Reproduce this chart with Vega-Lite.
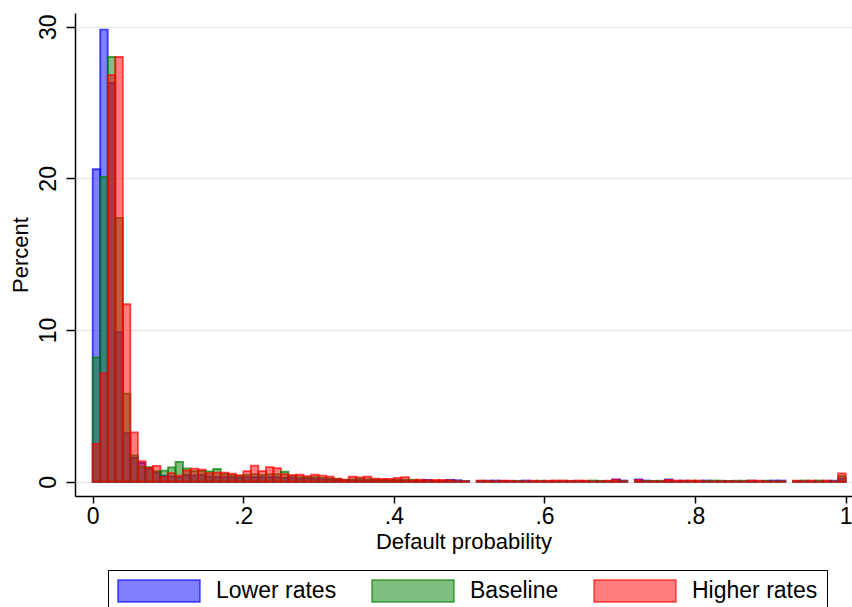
{
  "$schema": "https://vega.github.io/schema/vega-lite/v6.json",
  "width": 777,
  "height": 483,
  "autosize": {"type": "none"},
  "padding": {"left": 75, "top": 13, "right": 0, "bottom": 111},
  "background": "white",
  "config": {"view": {"stroke": null}, "font": "Liberation Sans"},
  "data": {
    "values": [
      {"a": 0.00, "b": 0.01, "Lower rates": 20.6, "Baseline": 8.2, "Higher rates": 2.5},
      {"a": 0.01, "b": 0.02, "Lower rates": 29.8, "Baseline": 20.1, "Higher rates": 7.15},
      {"a": 0.02, "b": 0.03, "Lower rates": 26.3, "Baseline": 28.0, "Higher rates": 26.8},
      {"a": 0.03, "b": 0.04, "Lower rates": 9.85, "Baseline": 17.4, "Higher rates": 28.0},
      {"a": 0.04, "b": 0.05, "Lower rates": 3.2, "Baseline": 5.8, "Higher rates": 11.7},
      {"a": 0.05, "b": 0.06, "Lower rates": 1.57, "Baseline": 1.73, "Higher rates": 3.25},
      {"a": 0.06, "b": 0.07, "Lower rates": 1.25, "Baseline": 1.0, "Higher rates": 1.35},
      {"a": 0.07, "b": 0.08, "Lower rates": 0.9, "Baseline": 0.97, "Higher rates": 0.93},
      {"a": 0.08, "b": 0.09, "Lower rates": 0.6, "Baseline": 0.7, "Higher rates": 1.05},
      {"a": 0.09, "b": 0.10, "Lower rates": 0.4, "Baseline": 0.73, "Higher rates": 0.32},
      {"a": 0.10, "b": 0.11, "Lower rates": 0.35, "Baseline": 0.95, "Higher rates": 0.57},
      {"a": 0.11, "b": 0.12, "Lower rates": 0.3, "Baseline": 1.3, "Higher rates": 0.4},
      {"a": 0.12, "b": 0.13, "Lower rates": 0.45, "Baseline": 0.88, "Higher rates": 0.75},
      {"a": 0.13, "b": 0.14, "Lower rates": 0.4, "Baseline": 0.7, "Higher rates": 0.86},
      {"a": 0.14, "b": 0.15, "Lower rates": 0.45, "Baseline": 0.72, "Higher rates": 0.8},
      {"a": 0.15, "b": 0.16, "Lower rates": 0.35, "Baseline": 0.68, "Higher rates": 0.57},
      {"a": 0.16, "b": 0.17, "Lower rates": 0.3, "Baseline": 0.84, "Higher rates": 0.6},
      {"a": 0.17, "b": 0.18, "Lower rates": 0.3, "Baseline": 0.5, "Higher rates": 0.6},
      {"a": 0.18, "b": 0.19, "Lower rates": 0.3, "Baseline": 0.45, "Higher rates": 0.53},
      {"a": 0.19, "b": 0.20, "Lower rates": 0.25, "Baseline": 0.38, "Higher rates": 0.44},
      {"a": 0.20, "b": 0.21, "Lower rates": 0.3, "Baseline": 0.45, "Higher rates": 0.7},
      {"a": 0.21, "b": 0.22, "Lower rates": 0.3, "Baseline": 0.5, "Higher rates": 1.06},
      {"a": 0.22, "b": 0.23, "Lower rates": 0.3, "Baseline": 0.45, "Higher rates": 0.7},
      {"a": 0.23, "b": 0.24, "Lower rates": 0.3, "Baseline": 0.5, "Higher rates": 0.97},
      {"a": 0.24, "b": 0.25, "Lower rates": 0.3, "Baseline": 0.5, "Higher rates": 0.9},
      {"a": 0.25, "b": 0.26, "Lower rates": 0.25, "Baseline": 0.66, "Higher rates": 0.5},
      {"a": 0.26, "b": 0.27, "Lower rates": 0.25, "Baseline": 0.4, "Higher rates": 0.44},
      {"a": 0.27, "b": 0.28, "Lower rates": 0.2, "Baseline": 0.3, "Higher rates": 0.46},
      {"a": 0.28, "b": 0.29, "Lower rates": 0.2, "Baseline": 0.3, "Higher rates": 0.37},
      {"a": 0.29, "b": 0.30, "Lower rates": 0.2, "Baseline": 0.3, "Higher rates": 0.46},
      {"a": 0.30, "b": 0.31, "Lower rates": 0.15, "Baseline": 0.25, "Higher rates": 0.4},
      {"a": 0.31, "b": 0.32, "Lower rates": 0.15, "Baseline": 0.22, "Higher rates": 0.33},
      {"a": 0.32, "b": 0.33, "Lower rates": 0.12, "Baseline": 0.18, "Higher rates": 0.2},
      {"a": 0.33, "b": 0.34, "Lower rates": 0.1, "Baseline": 0.12, "Higher rates": 0.13},
      {"a": 0.34, "b": 0.35, "Lower rates": 0.1, "Baseline": 0.15, "Higher rates": 0.33},
      {"a": 0.35, "b": 0.36, "Lower rates": 0.1, "Baseline": 0.2, "Higher rates": 0.29},
      {"a": 0.36, "b": 0.37, "Lower rates": 0.12, "Baseline": 0.15, "Higher rates": 0.33},
      {"a": 0.37, "b": 0.38, "Lower rates": 0.1, "Baseline": 0.15, "Higher rates": 0.2},
      {"a": 0.38, "b": 0.39, "Lower rates": 0.1, "Baseline": 0.14, "Higher rates": 0.18},
      {"a": 0.39, "b": 0.40, "Lower rates": 0.1, "Baseline": 0.12, "Higher rates": 0.18},
      {"a": 0.40, "b": 0.41, "Lower rates": 0.1, "Baseline": 0.12, "Higher rates": 0.26},
      {"a": 0.41, "b": 0.42, "Lower rates": 0.08, "Baseline": 0.12, "Higher rates": 0.31},
      {"a": 0.42, "b": 0.43, "Lower rates": 0.06, "Baseline": 0.13, "Higher rates": 0.1},
      {"a": 0.43, "b": 0.44, "Lower rates": 0.06, "Baseline": 0.08, "Higher rates": 0.13},
      {"a": 0.44, "b": 0.45, "Lower rates": 0.12, "Baseline": 0.05, "Higher rates": 0.1},
      {"a": 0.45, "b": 0.46, "Lower rates": 0.05, "Baseline": 0.06, "Higher rates": 0.12},
      {"a": 0.46, "b": 0.47, "Lower rates": 0.06, "Baseline": 0.05, "Higher rates": 0.12},
      {"a": 0.47, "b": 0.48, "Lower rates": 0.12, "Baseline": 0.04, "Higher rates": 0.1},
      {"a": 0.48, "b": 0.49, "Lower rates": 0.1, "Baseline": 0.03, "Higher rates": 0.04},
      {"a": 0.49, "b": 0.50, "Lower rates": 0.05, "Baseline": 0.02, "Higher rates": 0.03},
      {"a": 0.51, "b": 0.52, "Lower rates": 0.03, "Baseline": 0.05, "Higher rates": 0.08},
      {"a": 0.52, "b": 0.53, "Lower rates": 0.07, "Baseline": 0.03, "Higher rates": 0.06},
      {"a": 0.53, "b": 0.54, "Lower rates": 0.08, "Baseline": 0.02, "Higher rates": 0.03},
      {"a": 0.54, "b": 0.55, "Lower rates": 0.06, "Baseline": 0.02, "Higher rates": 0.07},
      {"a": 0.55, "b": 0.56, "Lower rates": 0.05, "Baseline": 0.03, "Higher rates": 0.07},
      {"a": 0.56, "b": 0.57, "Lower rates": 0.04, "Baseline": 0.06, "Higher rates": 0.03},
      {"a": 0.57, "b": 0.58, "Lower rates": 0.08, "Baseline": 0.02, "Higher rates": 0.03},
      {"a": 0.58, "b": 0.59, "Lower rates": 0.03, "Baseline": 0.02, "Higher rates": 0.07},
      {"a": 0.59, "b": 0.60, "Lower rates": 0.02, "Baseline": 0.07, "Higher rates": 0.05},
      {"a": 0.60, "b": 0.61, "Lower rates": 0.03, "Baseline": 0.05, "Higher rates": 0.07},
      {"a": 0.61, "b": 0.62, "Lower rates": 0.02, "Baseline": 0.03, "Higher rates": 0.08},
      {"a": 0.62, "b": 0.63, "Lower rates": 0.03, "Baseline": 0.02, "Higher rates": 0.08},
      {"a": 0.63, "b": 0.64, "Lower rates": 0.02, "Baseline": 0.06, "Higher rates": 0.06},
      {"a": 0.64, "b": 0.65, "Lower rates": 0.03, "Baseline": 0.03, "Higher rates": 0.08},
      {"a": 0.65, "b": 0.66, "Lower rates": 0.02, "Baseline": 0.04, "Higher rates": 0.08},
      {"a": 0.66, "b": 0.67, "Lower rates": 0.03, "Baseline": 0.08, "Higher rates": 0.02},
      {"a": 0.67, "b": 0.68, "Lower rates": 0.04, "Baseline": 0.06, "Higher rates": 0.03},
      {"a": 0.68, "b": 0.69, "Lower rates": 0.03, "Baseline": 0.05, "Higher rates": 0.07},
      {"a": 0.69, "b": 0.70, "Lower rates": 0.16, "Baseline": 0.03, "Higher rates": 0.14},
      {"a": 0.70, "b": 0.71, "Lower rates": 0.08, "Baseline": 0.03, "Higher rates": 0.02},
      {"a": 0.72, "b": 0.73, "Lower rates": 0.16, "Baseline": 0.04, "Higher rates": 0.12},
      {"a": 0.73, "b": 0.74, "Lower rates": 0.08, "Baseline": 0.04, "Higher rates": 0.02},
      {"a": 0.74, "b": 0.75, "Lower rates": 0.04, "Baseline": 0.06, "Higher rates": 0.03},
      {"a": 0.75, "b": 0.76, "Lower rates": 0.02, "Baseline": 0.07, "Higher rates": 0.03},
      {"a": 0.76, "b": 0.77, "Lower rates": 0.16, "Baseline": 0.05, "Higher rates": 0.12},
      {"a": 0.77, "b": 0.78, "Lower rates": 0.03, "Baseline": 0.02, "Higher rates": 0.08},
      {"a": 0.78, "b": 0.79, "Lower rates": 0.07, "Baseline": 0.02, "Higher rates": 0.07},
      {"a": 0.79, "b": 0.80, "Lower rates": 0.02, "Baseline": 0.04, "Higher rates": 0.08},
      {"a": 0.80, "b": 0.81, "Lower rates": 0.02, "Baseline": 0.03, "Higher rates": 0.08},
      {"a": 0.81, "b": 0.82, "Lower rates": 0.08, "Baseline": 0.05, "Higher rates": 0.02},
      {"a": 0.82, "b": 0.83, "Lower rates": 0.03, "Baseline": 0.08, "Higher rates": 0.02},
      {"a": 0.83, "b": 0.84, "Lower rates": 0.04, "Baseline": 0.07, "Higher rates": 0.03},
      {"a": 0.84, "b": 0.85, "Lower rates": 0.05, "Baseline": 0.05, "Higher rates": 0.04},
      {"a": 0.85, "b": 0.86, "Lower rates": 0.02, "Baseline": 0.07, "Higher rates": 0.02},
      {"a": 0.86, "b": 0.87, "Lower rates": 0.03, "Baseline": 0.07, "Higher rates": 0.02},
      {"a": 0.87, "b": 0.88, "Lower rates": 0.07, "Baseline": 0.02, "Higher rates": 0.08},
      {"a": 0.88, "b": 0.89, "Lower rates": 0.02, "Baseline": 0.02, "Higher rates": 0.07},
      {"a": 0.89, "b": 0.90, "Lower rates": 0.04, "Baseline": 0.07, "Higher rates": 0.03},
      {"a": 0.90, "b": 0.91, "Lower rates": 0.08, "Baseline": 0.02, "Higher rates": 0.02},
      {"a": 0.91, "b": 0.92, "Lower rates": 0.08, "Baseline": 0.03, "Higher rates": 0.02},
      {"a": 0.93, "b": 0.94, "Lower rates": 0.02, "Baseline": 0.06, "Higher rates": 0.07},
      {"a": 0.94, "b": 0.95, "Lower rates": 0.02, "Baseline": 0.08, "Higher rates": 0.03},
      {"a": 0.95, "b": 0.96, "Lower rates": 0.02, "Baseline": 0.03, "Higher rates": 0.08},
      {"a": 0.96, "b": 0.97, "Lower rates": 0.03, "Baseline": 0.08, "Higher rates": 0.02},
      {"a": 0.97, "b": 0.98, "Lower rates": 0.02, "Baseline": 0.03, "Higher rates": 0.08},
      {"a": 0.98, "b": 0.99, "Lower rates": 0.07, "Baseline": 0.02, "Higher rates": 0.02},
      {"a": 0.99, "b": 1.00, "Lower rates": 0.2, "Baseline": 0.37, "Higher rates": 0.55}
    ]
  },
  "transform": [
    {"fold": ["Lower rates", "Baseline", "Higher rates"], "as": ["series", "pct"]}
  ],
  "mark": {"type": "bar", "fillOpacity": 0.5, "strokeOpacity": 0.7, "strokeWidth": 1.8},
  "encoding": {
    "x": {
      "field": "a",
      "type": "quantitative",
      "scale": {"domain": [-0.0235, 1.0084], "nice": false, "zero": false},
      "axis": {
        "values": [0, 0.2, 0.4, 0.6, 0.8, 1],
        "labelExpr": "datum.value == 0 ? '0' : datum.value == 1 ? '1' : replace(format(datum.value, '.1f'), '0.', '.')",
        "title": "Default probability",
        "titleFontSize": 22,
        "titleFontWeight": "normal",
        "titleColor": "black",
        "titlePadding": 3,
        "labelFontSize": 23,
        "labelColor": "black",
        "labelPadding": 2,
        "labelFlush": false,
        "tickSize": 7,
        "tickWidth": 1.5,
        "tickColor": "black",
        "domainColor": "black",
        "domainWidth": 1.5,
        "grid": false
      }
    },
    "x2": {"field": "b"},
    "y": {
      "field": "pct",
      "type": "quantitative",
      "stack": null,
      "scale": {"domain": [-0.94, 30.9], "nice": false, "zero": false},
      "axis": {
        "values": [0, 10, 20, 30],
        "title": "Percent",
        "titleFontSize": 22,
        "titleFontWeight": "normal",
        "titleColor": "black",
        "titlePadding": 5,
        "labelAngle": -90,
        "labelAlign": "center",
        "labelBaseline": "bottom",
        "labelFontSize": 23,
        "labelColor": "black",
        "labelPadding": 6,
        "tickSize": 9,
        "tickWidth": 1.5,
        "tickColor": "black",
        "domainColor": "black",
        "domainWidth": 1.5,
        "grid": true,
        "gridColor": "#e6eef0",
        "gridWidth": 1.5
      }
    },
    "y2": {"datum": 0},
    "color": {
      "field": "series",
      "type": "nominal",
      "scale": {"domain": ["Lower rates", "Baseline", "Higher rates"], "range": ["#0000ff", "#008000", "#ff0000"]},
      "legend": {
        "title": null,
        "orient": "none",
        "legendX": 33,
        "legendY": 557,
        "direction": "horizontal",
        "strokeColor": "black",
        "padding": 9,
        "columnPadding": 32,
        "labelOffset": 75,
        "labelFontSize": 23,
        "labelColor": "black",
        "symbolType": "M-1,-1H6.45V1H-1Z",
        "symbolSize": 484,
        "symbolStrokeWidth": 1.5,
        "encode": {
          "symbols": {"update": {"opacity": {"value": 1}, "fillOpacity": {"value": 0.5}, "strokeOpacity": {"value": 0.7}}}
        }
      }
    },
    "stroke": {
      "field": "series",
      "type": "nominal",
      "scale": {"domain": ["Lower rates", "Baseline", "Higher rates"], "range": ["#0000ff", "#008000", "#ff0000"]}
    }
  }
}
